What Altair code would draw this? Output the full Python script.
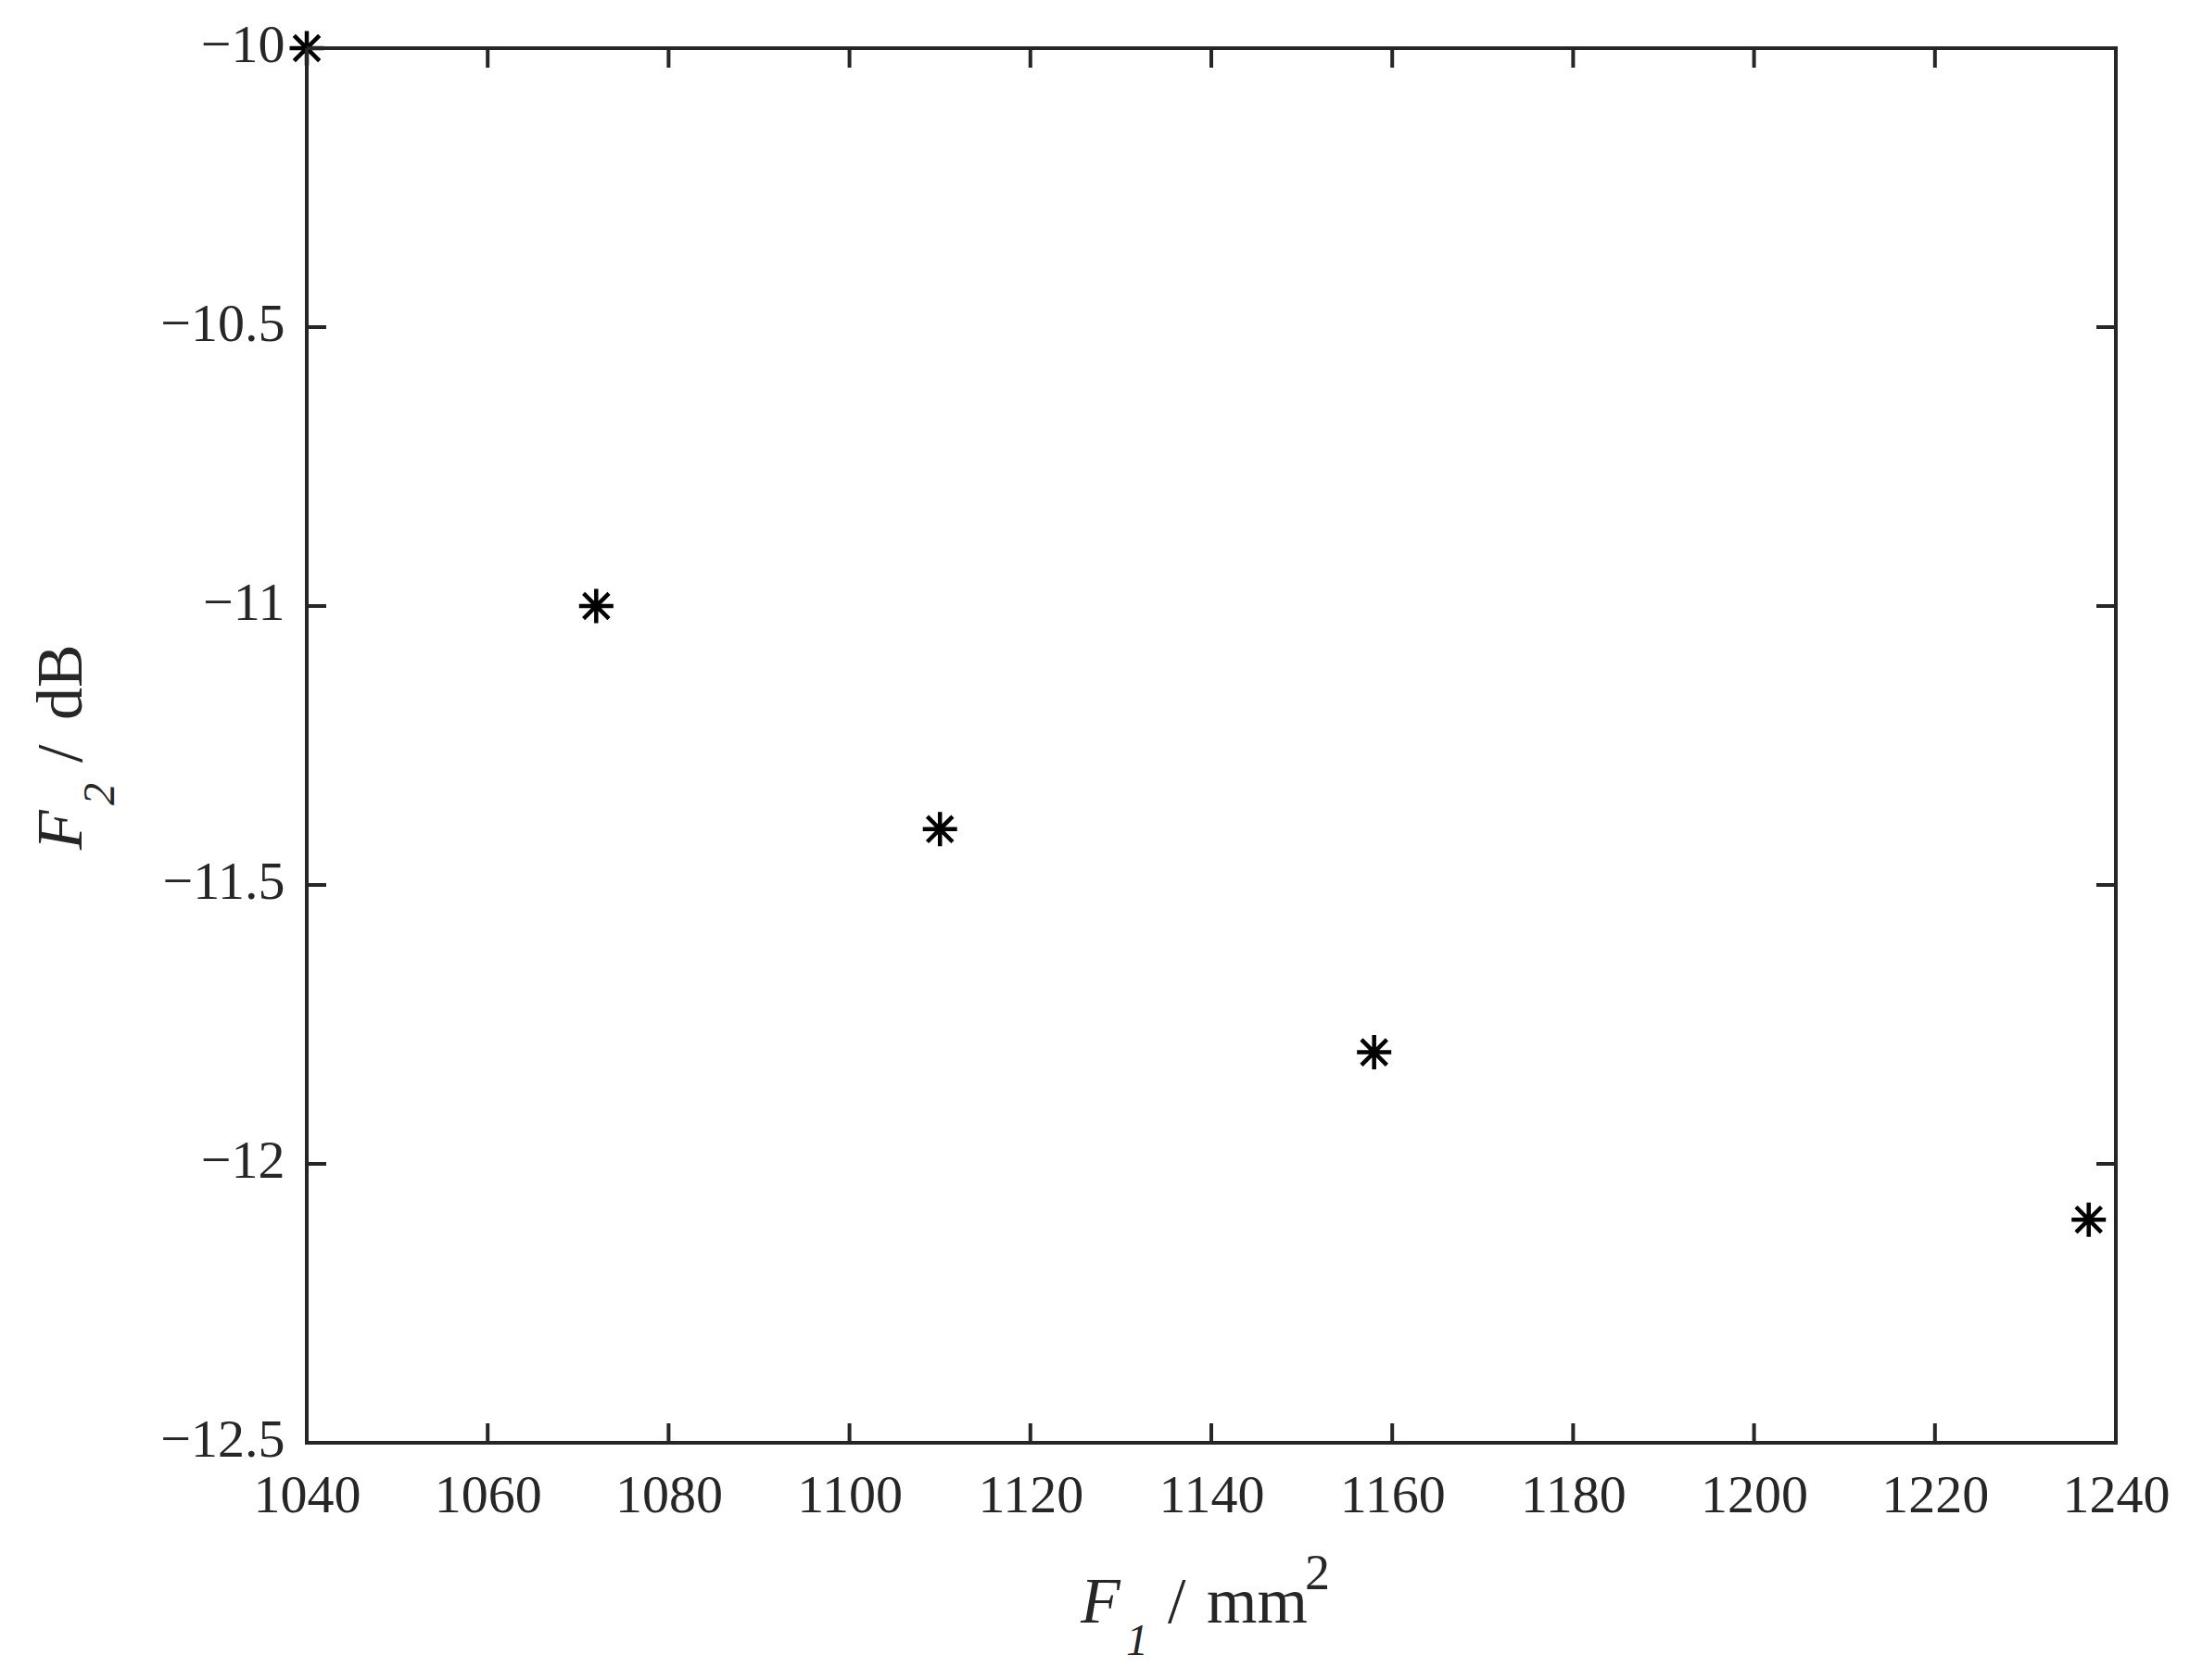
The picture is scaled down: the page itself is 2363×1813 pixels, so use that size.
import altair as alt
import pandas as pd

# ---- data ----
x_vals = [1040, 1072, 1110, 1158, 1237]
y_vals = [-10.0, -11.0, -11.4, -11.8, -12.1]
x_ticks = [1040, 1060, 1080, 1100, 1120, 1140, 1160, 1180, 1200, 1220, 1240]
y_ticks = [-12.5, -12.0, -11.5, -11.0, -10.5, -10.0]
x_title_parts = ["F", "1", "/", "mm", "2"]
y_title_parts = ["F", "2", "/", "dB"]

W, H = 1952, 1505
TICK = 21
INK = "#262626"
FONT = "Liberation Serif"
STAR = "M-1,0L1,0M0,-1L0,1M-0.74,-0.74L0.74,0.74M-0.74,0.74L0.74,-0.74"

pts = pd.DataFrame({"x": x_vals, "y": y_vals})
xt = pd.DataFrame({"x": x_ticks})
yt = pd.DataFrame({"y": y_ticks})

xscale = alt.Scale(domain=[1040, 1240], nice=False, zero=False)
yscale = alt.Scale(domain=[-12.5, -10], nice=False, zero=False)

axis_common = dict(
    ticks=False, tickSize=0, domain=False, grid=False, title=None,
    labelFont=FONT, labelFontSize=58, labelColor=INK,
    labelOverlap=False, labelFlush=False,
)
xaxis = alt.Axis(values=x_ticks, format="d", labelPadding=28, **axis_common)
yaxis = alt.Axis(values=y_ticks, format=".1~f", labelPadding=24, labelOffset=-3, **axis_common)

points = alt.Chart(pts).mark_point(
    shape=STAR, filled=False, size=1369, strokeWidth=4.5, color="black", opacity=1
).encode(
    x=alt.X("x:Q", scale=xscale, axis=xaxis),
    y=alt.Y("y:Q", scale=yscale, axis=yaxis),
)

rule_style = dict(color=INK, strokeWidth=4)
bottom = alt.Chart(xt).mark_rule(**rule_style).encode(
    x=alt.X("x:Q", scale=xscale, axis=xaxis), y=alt.value(H), y2=alt.value(H - TICK))
top = alt.Chart(xt).mark_rule(**rule_style).encode(
    x=alt.X("x:Q", scale=xscale, axis=xaxis), y=alt.value(0), y2=alt.value(TICK))
left = alt.Chart(yt).mark_rule(**rule_style).encode(
    y=alt.Y("y:Q", scale=yscale, axis=yaxis), x=alt.value(0), x2=alt.value(TICK))
right = alt.Chart(yt).mark_rule(**rule_style).encode(
    y=alt.Y("y:Q", scale=yscale, axis=yaxis), x=alt.value(W - TICK), x2=alt.value(W))


def label(s, x, y, size, italic=False, angle=0):
    kw = dict(font=FONT, fontSize=size, color=INK, align="left", baseline="alphabetic",
              fontStyle="italic" if italic else "normal")
    if angle:
        kw["angle"] = angle
    return alt.Chart(pd.DataFrame({"s": [s]})).mark_text(**kw).encode(
        x=alt.value(x), y=alt.value(y), text="s:N")


xt_layers = [
    label(x_title_parts[0], 835, 1699, 70, italic=True),
    label(x_title_parts[1], 884, 1734, 48, italic=True),
    label(x_title_parts[2], 929, 1699, 70),
    label(x_title_parts[3], 971, 1699, 70),
    label(x_title_parts[4], 1077, 1663, 54),
]
yt_layers = [
    label(y_title_parts[0], -243, 865, 70, italic=True, angle=270),
    label(y_title_parts[1], -208, 817, 48, italic=True, angle=270),
    label(y_title_parts[2], -243, 771, 70, angle=270),
    label(y_title_parts[3], -243, 725, 70, angle=270),
]

chart = alt.layer(points, bottom, top, left, right, *xt_layers, *yt_layers).properties(
    width=W, height=H,
    autosize=alt.AutoSizeParams(type="none"),
    padding={"left": 323, "top": 44, "right": 72, "bottom": 240},
    background="white",
).configure_view(stroke=INK, strokeWidth=4)

chart.save("out.html", embed_options={"renderer": "svg", "actions": False})
